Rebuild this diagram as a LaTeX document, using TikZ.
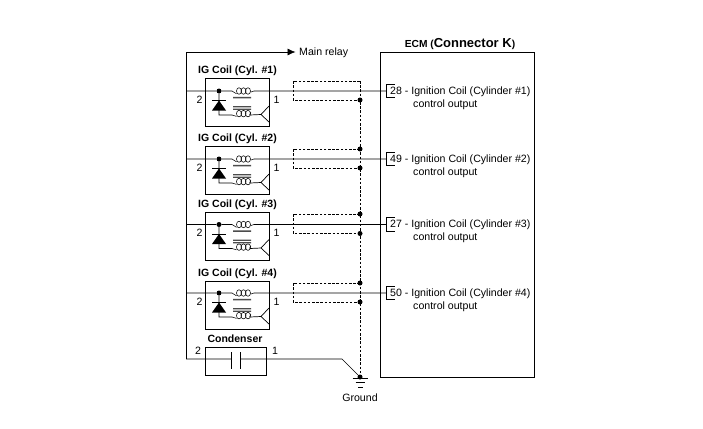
\documentclass[tikz,border=0pt]{standalone}
\usepackage{fontspec}
\setmainfont{Liberation Sans}
\usetikzlibrary{positioning,arrows.meta}
\tikzset{
  wire/.style={line width=0.7pt},
  shield/.style={line width=0.6pt, dashed, dash pattern=on 2.6pt off 1.6pt},
  spot/.style={circle, fill=black, inner sep=0pt, minimum size=5pt},
  loopy/.style={line width=0.55pt},
  txt/.style={inner sep=0pt, font=\fontsize{10.6}{12}\selectfont},
  head/.style={inner sep=0pt, font=\fontsize{10.5}{12}\selectfont\bfseries}
}
\begin{document}
\begin{tikzpicture}[x=1pt, y=-1pt]
      \useasboundingbox (0, 0) rectangle (703, 428);
      \node [draw, wire, minimum width=154pt, minimum height=324pt, inner sep=0pt, anchor=north west] (ecm) at (380, 52.5) {};
      \node [inner sep=0pt] (ecmtitle) at (460, 44.5) {\bfseries\fontsize{10.2}{12}\selectfont ECM (\fontsize{13}{12}\selectfont Connector K\fontsize{10.2}{12}\selectfont)};
      \coordinate (bustop) at (186, 52);
      \coordinate (busend) at (186, 359);
      \node [txt, anchor=west] (relay) at (299, 52.5) {Main relay};
      \coordinate (relaytip) at (295.5, 52);
      \draw [wire, -{Latex[length=8pt,width=7pt]}] (busend) -- (bustop) -- (relaytip);

      % the four coils: number / wire / box top / pin / lower and upper end of shield
      \foreach \n/\wy/\bt/\pin/\st/\sb in {1/91/78/28/81/100, 2/159/146/49/149/168, 3/224.5/212/27/214/233.5, 4/293/281/50/283/302} {
        \node [draw, line width=1.1pt, minimum width=64pt, minimum height=48pt, inner sep=0pt, anchor=north west] (coil\n) at (205, \bt) {};
        \node [head] (coillabel\n) at (237.5, \bt-7.5) {IG Coil (Cyl. \#\n)};
        \node [txt] (two\n) at (199.5, \wy+8.5) {2};
        \node [txt] (one\n) at (276.5, \wy+8.5) {1};
        \node [spot] (node\n) at (219, \wy) {};
        \node [txt, anchor=west] (out\n) at (390, \wy+0.5) {\pin{} - Ignition Coil (Cylinder \#\n)};
        \node [txt, anchor=west] (ctl\n) at (413, \wy+13.5) {control output};
        \coordinate (bus\n) at (186, \wy);
        \coordinate (upa\n) at (232, \wy);
        \coordinate (upb\n) at (254, \wy);
        \coordinate (pinl\n) at (386, \wy);
        \coordinate (lowk\n) at (219, \wy+24);
        \coordinate (lowa\n) at (232, \wy+24);
        \coordinate (lowb\n) at (250, \wy+24);
        \coordinate (tip\n) at (261, \wy+23.5);
        \draw [wire] (bus\n) -- (node\n) -- (upa\n)
                     (upb\n) -- (pinl\n)
                     (node\n) -- (lowk\n) -- (lowa\n)
                     (lowb\n) -- (tip\n) -- (269, \wy+15)
                     (tip\n) -- (269, \wy+31);
        \foreach \cx in {239, 243.5, 248} {
          \draw [loopy] (\cx, \wy) ellipse (2.5pt and 3.3pt);
          \draw [loopy] (\cx, \wy+22.6) ellipse (2.5pt and 3.3pt);
        }
        \draw [loopy] (upa\n) to[out=0, in=180] (236.5, \wy+2.8)
                      (250.5, \wy+1.2) to[out=0, in=180] (upb\n)
                      (lowa\n) to[out=0, in=180] (236.5, \wy+25.4)
                      (250.5, \wy+21) to[out=0, in=180] (lowb\n);
        \fill [gray!60!black] (233, \wy+5.8) rectangle (251, \wy+7.4)
                    (233, \wy+15.2) rectangle (251, \wy+16.4)
                    (233, \wy+17.6) rectangle (251, \wy+18.8);
        \draw [wire] (212, \wy+9.5) -- (226, \wy+9.5);
        \fill [black] (219, \wy+9.5) -- (226, \wy+19.5) -- (212, \wy+19.5) -- cycle;
        \draw [wire] (394.5, \wy-7) -- (pinl\n |- 0, \wy-7) -- (pinl\n |- 0, \wy+6.5) -- (394.5, \wy+6.5);
        \node [spot] (shb\n) at (360, \sb) {};
        \coordinate (sht\n) at (360, \st);
        \draw [shield] (sht\n) -- (293, \st) -- (293, \sb) -- (shb\n);
      }
      \node [spot] (sht2) at (360, 149) {};
      \node [spot] (sht3) at (360, 214) {};
      \node [spot] (sht4) at (360, 283) {};

      % condenser and ground
      \node [draw, line width=0.9pt, minimum width=61pt, minimum height=28pt, inner sep=0pt, anchor=north west] (cond) at (205, 347) {};
      \node [head] (condlabel) at (235, 339) {Condenser};
      \node [txt] (twoc) at (198, 351) {2};
      \node [txt] (onec) at (275, 351) {1};
      \node [spot] (gnd) at (360, 377) {};
      \node [txt] (gndlabel) at (360, 397.5) {Ground};
      \coordinate (platel) at (231, 359);
      \coordinate (plater) at (240.5, 359);
      \coordinate (bend) at (342, 359);
      \draw [wire] (busend) -- (platel) (plater) -- (bend) -- (gnd);
      \draw [line width=0.6pt] (231, 352) -- (231, 369) (240.5, 352) -- (240.5, 369);
      \draw [line width=0.6pt] (352.5, 378) -- (368, 378) (355.5, 382.5) -- (365, 382.5) (358, 387) -- (362.5, 387);
      \draw [shield] (sht1) -- (gnd);
      \end{tikzpicture}
\end{document}
